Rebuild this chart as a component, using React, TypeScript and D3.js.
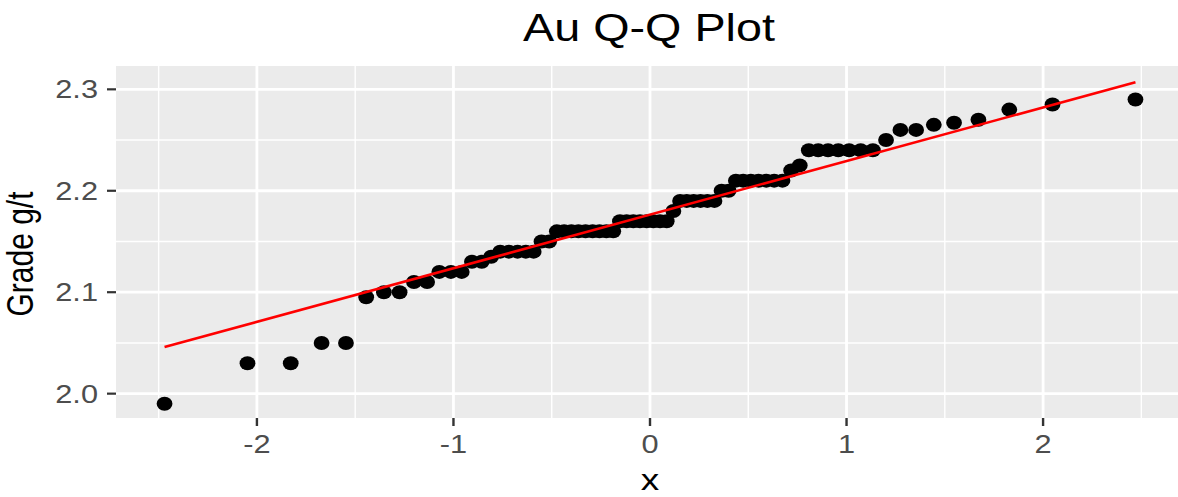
import * as d3 from 'd3';

const title = 'Au Q-Q Plot';
const xTitle = 'x';
const yTitle = 'Grade g/t';

// theoretical normal quantiles (x) and sorted sample grades (y)
const theoretical = [
  -2.470, -2.048, -1.828, -1.671, -1.547, -1.444, -1.354, -1.274, -1.201, -1.134,
  -1.072, -1.013, -0.958, -0.906, -0.856, -0.808, -0.762, -0.718, -0.674, -0.632,
  -0.592, -0.552, -0.513, -0.474, -0.437, -0.400, -0.364, -0.328, -0.292, -0.257,
  -0.222, -0.187, -0.153, -0.119, -0.085, -0.051, -0.017,
  0.017, 0.051, 0.085, 0.119, 0.153, 0.187, 0.222, 0.257, 0.292, 0.328,
  0.364, 0.400, 0.437, 0.474, 0.513, 0.552, 0.592, 0.632, 0.674, 0.718,
  0.762, 0.808, 0.856, 0.906, 0.958, 1.013, 1.072, 1.134, 1.201, 1.274,
  1.354, 1.444, 1.547, 1.671, 1.828, 2.048, 2.470,
];
const grade = [
  1.99, 2.03, 2.03, 2.05, 2.05, 2.095, 2.10, 2.10, 2.11, 2.11,
  2.12, 2.12, 2.12, 2.13, 2.13, 2.135, 2.14, 2.14, 2.14, 2.14,
  2.14, 2.15, 2.15, 2.16, 2.16, 2.16, 2.16, 2.16, 2.16, 2.16,
  2.16, 2.16, 2.17, 2.17, 2.17, 2.17, 2.17,
  2.17, 2.17, 2.17, 2.18, 2.19, 2.19, 2.19, 2.19, 2.19, 2.19,
  2.20, 2.20, 2.21, 2.21, 2.21, 2.21, 2.21, 2.21, 2.21, 2.22,
  2.225, 2.24, 2.24, 2.24, 2.24, 2.24, 2.24, 2.24, 2.25, 2.26,
  2.26, 2.265, 2.267, 2.27, 2.28, 2.285, 2.29,
];

// reference line end points
const lineX = [-2.47, 2.47];
const lineY = [2.046, 2.307];

const xTicks = [-2, -1, 0, 1, 2];
const xMinor = [-2.5, -1.5, -0.5, 0.5, 1.5, 2.5];
const yTicks = [2.0, 2.1, 2.2, 2.3];
const yMinor = [2.05, 2.15, 2.25];
const xLimits = [-2.717, 2.717];
const yLimits = [1.976, 2.323];

const W = 1178;
const H = 497;
const panel = { left: 116, right: 1184, top: 66, bottom: 418 };
const sx = 1.23; // the picture is stretched horizontally
const font = '"Liberation Sans", Arial, Helvetica, sans-serif';

export default function App() {
  const x = d3.scaleLinear().domain(xLimits).range([panel.left, panel.right]);
  const y = d3.scaleLinear().domain(yLimits).range([panel.bottom, panel.top]);

  const line = d3.line<number>()
    .x((_, i) => x(lineX[i]))
    .y(d => y(d));

  const points = theoretical.map((t, i) => ({ t, g: grade[i] }));

  return (
    <svg width={W} height={H} style={{ position: 'absolute', left: 0, top: 0, background: '#fff' }}>
      <rect x={panel.left} y={panel.top} width={panel.right - panel.left}
        height={panel.bottom - panel.top} fill="#EBEBEB" />

      {xMinor.map(v => (
        <line key={'xm' + v} x1={x(v)} x2={x(v)} y1={panel.top} y2={panel.bottom}
          stroke="#fff" strokeWidth={1.4} />
      ))}
      {yMinor.map(v => (
        <line key={'ym' + v} x1={panel.left} x2={panel.right} y1={y(v)} y2={y(v)}
          stroke="#fff" strokeWidth={1.4} />
      ))}
      {xTicks.map(v => (
        <line key={'xg' + v} x1={x(v)} x2={x(v)} y1={panel.top} y2={panel.bottom}
          stroke="#fff" strokeWidth={2.8} />
      ))}
      {yTicks.map(v => (
        <line key={'yg' + v} x1={panel.left} x2={panel.right} y1={y(v)} y2={y(v)}
          stroke="#fff" strokeWidth={2.8} />
      ))}

      {points.map((p, i) => (
        <ellipse key={i} cx={x(p.t)} cy={y(p.g)} rx={7.9} ry={7} fill="#000" />
      ))}

      <path d={line(lineY) || ''} fill="none" stroke="#FF0000" strokeWidth={2.6} />

      {/* y axis */}
      {yTicks.map(v => (
        <g key={'yt' + v}>
          <line x1={panel.left - 9} x2={panel.left} y1={y(v)} y2={y(v)} stroke="#333" strokeWidth={2.2} />
          <g transform={`translate(${panel.left - 18},${y(v) + 9}) scale(${sx},1)`}>
            <text textAnchor="end" fontFamily={font} fontSize={25} fill="#4D4D4D">{v.toFixed(1)}</text>
          </g>
        </g>
      ))}

      {/* x axis */}
      {xTicks.map(v => (
        <g key={'xt' + v}>
          <line x1={x(v)} x2={x(v)} y1={panel.bottom} y2={panel.bottom + 8} stroke="#333" strokeWidth={2.4} />
          <g transform={`translate(${x(v)},${panel.bottom + 35}) scale(${sx},1)`}>
            <text textAnchor="middle" fontFamily={font} fontSize={25} fill="#4D4D4D">{v}</text>
          </g>
        </g>
      ))}

      <g transform={`translate(${x(0)},490) scale(${sx},1)`}>
        <text textAnchor="middle" fontFamily={font} fontSize={30} fill="#000">{xTitle}</text>
      </g>
      <g transform={`translate(33,254) scale(${sx},1) rotate(-90)`}>
        <text textAnchor="middle" fontFamily={font} fontSize={30} fill="#000">{yTitle}</text>
      </g>
      <g transform={`translate(649,41) scale(${sx},1)`}>
        <text textAnchor="middle" fontFamily={font} fontSize={38} fill="#000">{title}</text>
      </g>
    </svg>
  );
}
